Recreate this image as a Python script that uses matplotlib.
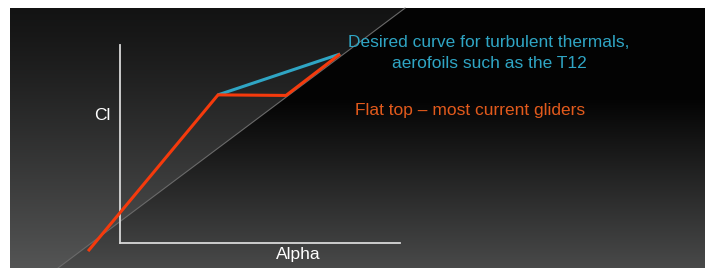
import numpy as np
import matplotlib
matplotlib.use("Agg")
import matplotlib.pyplot as plt

# lift curves (alpha, Cl) in chart units
flat_alpha = [-1.14, 3.5, 5.93, 7.86]
flat_cl = [-0.29, 5.29, 5.27, 6.75]
desired_alpha = [3.5, 7.86]
desired_cl = [5.29, 6.75]
ref_alpha = [-2.21, 10.18]
ref_cl = [-0.89, 8.39]

x_label = "Alpha"
y_label = "Cl"
desired_text = "Desired curve for turbulent thermals,\naerofoils such as the T12"
flat_text = "Flat top \u2013 most current gliders"

RED = "#f53a0c"
BLUE = "#2fa5c4"
ORANGE = "#e25a1c"
W, H = 705, 268

plt.rcParams["font.family"] = ["Liberation Sans", "DejaVu Sans"]
fig = plt.figure(figsize=(W / 100, H / 100), dpi=100)
fig.patch.set_facecolor("white")

# chart axes (axis lines only)
ax = fig.add_axes([120 / W, (H - 243) / H, 280 / W, 198 / H])
ax.set_xlim(0, 10)
ax.set_ylim(0, 198 / 28)
ax.patch.set_alpha(0)
for s in ["top", "right"]:
    ax.spines[s].set_visible(False)
for s in ["left", "bottom"]:
    ax.spines[s].set_color("#d8d8d8")
    ax.spines[s].set_linewidth(1.3)
ax.set_xticks([])
ax.set_yticks([])

# background: dark gradient, lighter to the left of the reference line
bg = fig.add_axes([0, 0, 1, 1], zorder=-1)
bg.set_xlim(0, W)
bg.set_ylim(0, H)
bg.axis("off")
p = ax.transData.transform(np.column_stack([ref_alpha, ref_cl]))
x0, x1 = 10, W
y_top = H - 8
xx, yy = np.meshgrid(np.arange(x0, x1) + 0.5, np.arange(0, y_top) + 0.5)
depth = H - yy  # pixels from top
base = np.clip((depth - 100) / 168, 0, 1) * 0.27 + 0.015
t = np.clip((depth - 8) / 260, 0, 1)
left = 0.075 + 0.255 * t ** 1.2
side = (p[1, 0] - p[0, 0]) * (yy - p[0, 1]) - (p[1, 1] - p[0, 1]) * (xx - p[0, 0])
img = np.where(side > 0, left, base)
rgb = np.dstack([img, img * 1.01, img * 1.01])
bg.imshow(np.clip(rgb, 0, 1), extent=[x0, x1, 0, y_top], origin="lower",
          aspect="auto", interpolation="bilinear")

ax.plot(ref_alpha, ref_cl, color="#6a6a6a", lw=0.8, clip_on=False, zorder=1)
ax.plot(desired_alpha, desired_cl, color=BLUE, lw=2.2, clip_on=False,
        solid_capstyle="butt", zorder=2)
ax.plot(flat_alpha, flat_cl, color=RED, lw=2.2, clip_on=False,
        solid_joinstyle="miter", solid_capstyle="butt", zorder=3)

fig.text(102 / W, 1 - 116 / H, y_label, color="white", fontsize=12.5,
         ha="center", va="center")
fig.text(298 / W, 1 - 254 / H, x_label, color="white", fontsize=12.5,
         ha="center", va="center")
fig.text(489 / W, 1 - 53 / H, desired_text, color=BLUE, fontsize=12.5,
         ha="center", va="center", linespacing=1.45)
fig.text(470 / W, 1 - 110 / H, flat_text, color=ORANGE, fontsize=12.5,
         ha="center", va="center")

fig.savefig("out.png", dpi=100, facecolor=fig.get_facecolor())
